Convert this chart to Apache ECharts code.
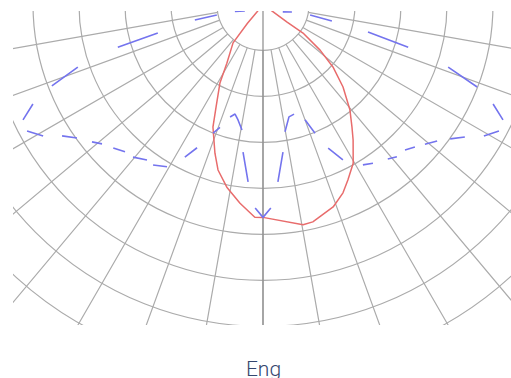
<!DOCTYPE html>
<html>
<head>
    <title>Polar light distribution</title>
    <script src="https://cdnjs.cloudflare.com/ajax/libs/echarts/6.0.0/echarts.min.js"></script>
    <style>
        body {
            margin: 0;
            background: #fff;
        }
        .clip {
            position: absolute;
            left: 13px;
            top: 11px;
            width: 498px;
            height: 314px;
            overflow: hidden;
        }
        #chart {
            position: absolute;
            left: -13px;
            top: -11px;
            width: 511px;
            height: 378px;
        }
        .label {
            position: absolute;
            left: 0;
            width: 527px;
            top: 359px;
            text-align: center;
            font-family: Roboto, sans-serif;
            font-weight: 300;
            font-size: 21px;
            line-height: 21px;
            color: #34466e;
        }
    </style>
</head>
<body>
    <div class="clip"><div id="chart"></div></div>
    <div class="label">Eng</div>

    <script>
        // [intensity, angle] ; angle 0 = straight down, negative = left side
        const planeC0 = [
            [0, -39], [21, -39], [53, -39.5], [106, -37.9], [150, -31.6], [195, -28.7],
            [245, -24.6], [288, -22.2], [340, -17.9], [373, -15.2], [405, -11.2],
            [435, -6.6], [463, -2.2], [463, 0], [487, 10.3], [485, 12.9], [466, 19.1],
            [445, 23], [424, 25.8], [397, 29.6], [354, 33.6], [329, 36], [297, 39.5],
            [250, 44.1], [204, 48.2], [159, 51.3], [107, 54.4], [65, 53.7], [0, 55]
        ];

        // C90-C270 plane, kept as the visible dash pieces of the dashed curve
        const planeC90 = [
            [[42, -70], [63, -76]],
            [[103, -77], [152, -77.1]],
            [[237, -74.8], [329, -73.6]],
            [[425, -71.3], [492, -68.9]],
            [[545, -66.6], [579, -64.3]],
            [[582, -61.8], [557, -59.1]],
            [[522, -56.8], [498, -54.3]],
            [[477, -51.2], [463, -49.1]],
            [[451, -46.2], [439, -43.1]],
            [[436, -40.4], [422, -36.7]],
            [[423, -34.4], [410, -30.6]],
            [[373, -27.1], [343, -24.7]],
            [[300, -21.2], [283, -19.3]],
            [[255, -16.3], [246, -14.3], [257, -12.2], [277, -9.5]],
            [[324, -7.7], [387, -4.8]],
            [[443, -2.2], [463, 0], [443, 2.2]],
            [[387, 4.8], [324, 7.7]],
            [[281, 9.8], [251, 13], [248, 15.8]],
            [[267, 20], [302, 22]],
            [[343, 24.4], [380, 27.2]],
            [[411, 31.9], [420, 34.7]],
            [[432, 38.9], [441, 41.3]],
            [[442, 44.3], [453, 46.8]],
            [[465, 49.2], [481, 51.9]],
            [[501, 54.3], [525, 56.7]],
            [[559, 59.2], [582, 61.8]],
            [[579, 64.3], [545, 66.6]],
            [[499, 68.9], [425, 71.3]],
            [[329, 73.6], [236, 75.3]],
            [[154, 76.5], [105, 77.3]],
            [[65, 75.3], [46, 69.2]]
        ];

        const ringCount = 8;      // grid rings beyond the inner one
        const intensityMax = 900; // one ring = 100

        const center = [263, 4.4];
        const gridColor = '#ababab';

        // join the dash pieces into one series, broken by empty points
        const c90Data = planeC90.flatMap((piece, i) => i ? [['-', '-'], ...piece] : piece);

        const chart = echarts.init(document.getElementById('chart'));

        const hiddenAxis = {
            axisLine: { show: false },
            axisTick: { show: false },
            axisLabel: { show: false }
        };

        chart.setOption({
            animation: false,
            polar: [
                { center: center, radius: [46, 46 * (ringCount + 1)] },
                { center: center, radius: [0, 46 * (ringCount + 1)] }
            ],
            angleAxis: [
                Object.assign({
                    polarIndex: 0,
                    type: 'value',
                    min: -180,
                    max: 180,
                    interval: 10,
                    startAngle: 90,
                    clockwise: false,
                    splitLine: { show: true, lineStyle: { color: gridColor, width: 1.2 } }
                }, hiddenAxis),
                Object.assign({
                    polarIndex: 1,
                    type: 'value',
                    min: -180,
                    max: 180,
                    interval: 180,
                    startAngle: 90,
                    clockwise: false,
                    splitLine: { show: true, lineStyle: { color: '#8c8c8c', width: 1.2 } }
                }, hiddenAxis)
            ],
            radiusAxis: [
                Object.assign({
                    polarIndex: 0,
                    type: 'value',
                    min: 0,
                    max: ringCount,
                    interval: 1,
                    splitLine: { show: true, lineStyle: { color: gridColor, width: 1.2 } }
                }, hiddenAxis),
                Object.assign({
                    polarIndex: 1,
                    type: 'value',
                    min: 0,
                    max: intensityMax,
                    splitLine: { show: false }
                }, hiddenAxis)
            ],
            series: [
                {
                    name: 'C0-C180',
                    type: 'line',
                    coordinateSystem: 'polar',
                    polarIndex: 1,
                    showSymbol: false,
                    data: planeC0,
                    lineStyle: { color: '#e86c6c', width: 1.5 }
                },
                {
                    name: 'C90-C270',
                    type: 'line',
                    coordinateSystem: 'polar',
                    polarIndex: 1,
                    showSymbol: false,
                    connectNulls: false,
                    data: c90Data,
                    lineStyle: { color: '#7474ee', width: 1.6 }
                }
            ]
        });
    </script>
</body>
</html>
